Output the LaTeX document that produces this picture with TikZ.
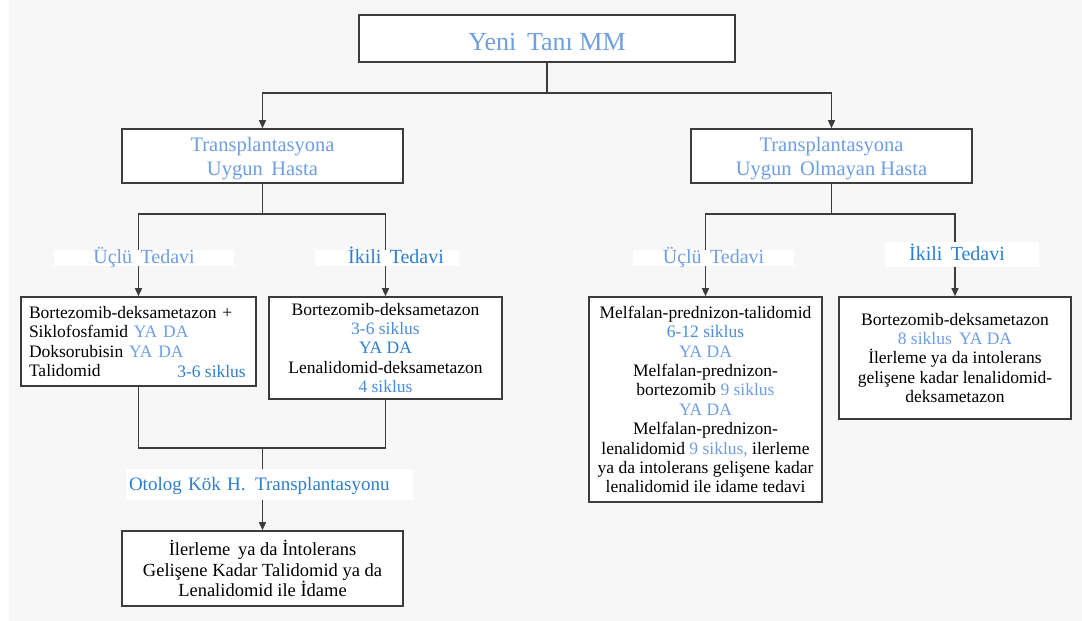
\documentclass[tikz,border=0pt]{standalone}
\usepackage{fontspec}
\setmainfont{Liberation Serif}
\usetikzlibrary{arrows.meta}
\definecolor{pagebg}{HTML}{F7F7F7}
\definecolor{lblue}{HTML}{6E9EE4}
\definecolor{mblue}{HTML}{4A8EDB}
\definecolor{dblue}{HTML}{2B7FD0}
\definecolor{edge}{HTML}{3C3C3C}
\begin{document}
\begin{tikzpicture}[x=1pt,y=-1pt,
  box/.style={draw=edge, line width=1.6pt, fill=white, inner sep=0pt, align=center},
  body/.style={font=\fontsize{17.5}{19.4}\selectfont},
  head/.style={font=\fontsize{20.5}{24}\selectfont, text=lblue, text depth=-2pt},
  tag/.style={fill=white, inner sep=0pt, minimum height=16pt, text height=12pt, text depth=1pt,
              font=\fontsize{20}{24}\selectfont},
  wire/.style={draw=edge, line width=1.3pt},
  arr/.style={wire, -{Triangle[width=7pt,length=8pt]}}]

% page
\fill[white] (0,0) rectangle (1082,621);
\fill[pagebg] (9,0) rectangle (1082,621);
\useasboundingbox (0,0) rectangle (1082,621);

% boxes
\node[box, minimum width=376pt, minimum height=47pt, text=lblue, text height=24.5pt, text depth=0pt,
      font=\fontsize{26}{30}\selectfont] (top) at (547,38.5) {Yeni\, Tanı MM};

\node[box, head, minimum width=281pt, minimum height=54pt] (tl) at (262.5,156)
  {Transplantasyona\\Uygun\, Hasta};
\node[box, head, minimum width=281pt, minimum height=54pt] (tr) at (831.5,156)
  {Transplantasyona\\Uygun\, Olmayan Hasta};

\node[box, body, align=left, text width=219pt, minimum width=235pt, minimum height=89pt] (b1) at (138.5,341.5)
  {Bortezomib-deksametazon +\\
   Siklofosfamid \textcolor{lblue}{YA DA}\\
   Doksorubisin \textcolor{lblue}{YA DA}\\
   Talidomid};
\node[body, anchor=base east, inner sep=0pt, text=dblue] (b1s) at (246,377) {3-6 siklus};

\node[box, body, minimum width=233pt, minimum height=102pt] (b2) at (385.5,348)
  {Bortezomib-deksametazon\\
   \textcolor{mblue}{3-6 siklus}\\
   \textcolor{dblue}{YA DA}\\
   Lenalidomid-deksametazon\\
   \textcolor{mblue}{4 siklus}};

\node[box, body, minimum width=233pt, minimum height=205pt] (b3) at (705.5,399.5)
  {Melfalan-prednizon-talidomid\\
   \textcolor{mblue}{6-12 siklus}\\
   \textcolor{lblue}{YA DA}\\
   Melfalan-prednizon-\\
   bortezomib \textcolor{lblue}{9 siklus}\\
   \textcolor{lblue}{YA DA}\\
   Melfalan-prednizon-\\
   lenalidomid \textcolor{lblue}{9 siklus,} ilerleme\\
   ya da intolerans gelişene kadar\\
   lenalidomid ile idame tedavi};

\node[box, body, minimum width=232pt, minimum height=122pt] (b4) at (955,358)
  {Bortezomib-deksametazon\\
   \textcolor{lblue}{8 siklus\, YA DA}\\
   İlerleme ya da intolerans\\
   gelişene kadar lenalidomid-\\
   deksametazon};

\node[box, minimum width=281pt, minimum height=75pt, font=\fontsize{18.5}{20.5}\selectfont] (fin) at (262.5,568.5)
  {İlerleme\, ya da İntolerans\\
   Gelişene Kadar Talidomid ya da\\
   Lenalidomid ile İdame};

% junction points
\coordinate (j0) at (547,93);
\coordinate (jl) at (262.5,214);
\coordinate (jr) at (831.5,214);
\coordinate (jb) at (262.5,448);

% connectors
\draw[wire] (top.south) -- (j0);
\draw[arr] (j0) -| (tl.north);
\draw[arr] (j0) -| (tr.north);
\draw[wire] (tl.south) -- (jl);
\draw[arr] (jl) -| (b1.north);
\draw[arr] (jl) -| (b2.north);
\draw[wire] (tr.south) -- (jr);
\draw[arr] (jr) -| (b3.north);
\draw[arr] (jr) -| (b4.north);
\draw[wire] (b1.south) |- (jb);
\draw[wire] (b2.south) |- (jb);
\draw[arr] (jb) -- (fin.north);

% branch labels laid over the connectors
\node[tag, minimum width=180pt, text=lblue] (t1) at (144,258) {Üçlü\, Tedavi};
\node[tag, minimum width=144pt, text=dblue] (t2) at (387,258) {\hspace*{18pt}İkili\, Tedavi};
\node[tag, minimum width=161pt, text=lblue] (t3) at (713.5,258) {Üçlü\, Tedavi};
\node[tag, minimum width=154pt, minimum height=25pt, text=dblue] (t4) at (962,254.5) {İkili\, Tedavi\hspace*{10pt}};
\node[tag, minimum width=287pt, minimum height=31pt, text width=281pt, align=left, text=dblue,
      font=\fontsize{19}{22}\selectfont] (t5) at (269.5,484.5) {Otolog Kök H.\, Transplantasyonu};

\end{tikzpicture}
\end{document}
